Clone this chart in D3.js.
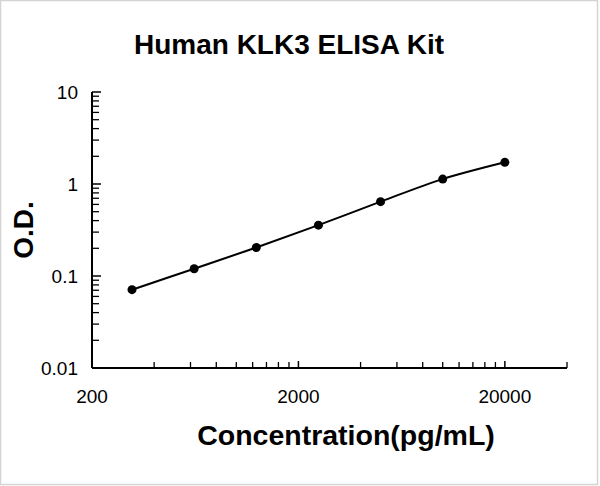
<!DOCTYPE html>
<html>
<head>
<meta charset="utf-8">
<script src="https://cdn.jsdelivr.net/npm/d3@7"></script>
<style>
  body { margin: 0; background: #fff; }
  text { fill: #000; }
</style>
</head>
<body>
<div class="viz-container"></div>
<script>
// data
let concentration = [312.5, 625, 1250, 2500, 5000, 10000, 20000];
let od = [0.071, 0.120, 0.204, 0.357, 0.643, 1.13, 1.72];
let xTickLabels = [200, 2000, 20000];
let yTickLabels = [0.01, 0.1, 1, 10];

let width = 600, height = 486;

let viz = d3.select(".viz-container")
  .append("svg")
    .attr("width", width)
    .attr("height", height);

// faint frame round the picture
viz.append("rect")
  .attr("x", 0.5).attr("y", 0.5)
  .attr("width", 597).attr("height", 484)
  .attr("fill", "none")
  .attr("stroke", "#d4d4d4")
  .attr("stroke-width", 1.5);

let x = d3.scaleLog().domain([200, 40000]).range([92, 567]);
let y = d3.scaleLog().domain([0.01, 10]).range([368, 92]);

// minor ticks, Excel style: multiples of the decade start
function minorTicks(scale) {
  let [lo, hi] = scale.domain();
  let out = [];
  for (let d = lo; d < hi; d *= 10) {
    for (let k = 2; k <= 9; k++) {
      let v = d * k;
      if (v <= hi * 1.0001) out.push(v);
    }
  }
  return out;
}

// x axis
let xAxis = viz.append("g").attr("transform", "translate(0," + y(0.01) + ")");
xAxis.append("line")
  .attr("x1", x(200)).attr("x2", x(40000))
  .attr("stroke", "#000").attr("stroke-width", 2);
xAxis.selectAll(".minor").data(minorTicks(x)).enter()
  .append("line")
    .attr("x1", d => x(d)).attr("x2", d => x(d))
    .attr("y1", 0).attr("y2", -6)
    .attr("stroke", "#000").attr("stroke-width", 1.3);
xAxis.selectAll(".major").data(xTickLabels).enter()
  .append("line")
    .attr("x1", d => x(d)).attr("x2", d => x(d))
    .attr("y1", 0).attr("y2", -7)
    .attr("stroke", "#000").attr("stroke-width", 1.5);
xAxis.selectAll(".lbl").data(xTickLabels).enter()
  .append("text")
    .attr("x", d => x(d))
    .attr("y", 35)
    .attr("text-anchor", "middle")
    .style("font-family", "'Liberation Sans', Arial, sans-serif")
    .style("font-size", "19px")
    .text(d => d);

// y axis
let yAxis = viz.append("g").attr("transform", "translate(" + x(200) + ",0)");
yAxis.append("line")
  .attr("y1", y(0.01)).attr("y2", y(10))
  .attr("stroke", "#000").attr("stroke-width", 2);
yAxis.selectAll(".minor").data(minorTicks(y)).enter()
  .append("line")
    .attr("y1", d => y(d)).attr("y2", d => y(d))
    .attr("x1", 0).attr("x2", 7)
    .attr("stroke", "#000").attr("stroke-width", 1.3);
yAxis.selectAll(".major").data(yTickLabels).enter()
  .append("line")
    .attr("y1", d => y(d)).attr("y2", d => y(d))
    .attr("x1", 0).attr("x2", 9)
    .attr("stroke", "#000").attr("stroke-width", 1.5);
yAxis.selectAll(".lbl").data(yTickLabels).enter()
  .append("text")
    .attr("x", -14)
    .attr("y", d => y(d))
    .attr("dy", "0.36em")
    .attr("text-anchor", "end")
    .style("font-family", "'Liberation Sans', Arial, sans-serif")
    .style("font-size", "19px")
    .text(d => d);

// curve
let points = concentration.map((c, i) => [c, od[i]]);
let line = d3.line()
  .x(d => x(d[0]))
  .y(d => y(d[1]))
  .curve(d3.curveCatmullRom.alpha(0.5));

viz.append("path")
  .datum(points)
  .attr("d", line)
  .attr("fill", "none")
  .attr("stroke", "#000")
  .attr("stroke-width", 2);

viz.selectAll(".dot").data(points).enter()
  .append("circle")
    .attr("cx", d => x(d[0]))
    .attr("cy", d => y(d[1]))
    .attr("r", 4.5)
    .attr("fill", "#000");

// titles
viz.append("text")
  .attr("x", 289).attr("y", 54)
  .attr("text-anchor", "middle")
  .style("font-family", "'Liberation Sans', Arial, sans-serif")
  .style("font-weight", "bold")
  .style("font-size", "28px")
  .text("Human KLK3 ELISA Kit");

viz.append("text")
  .attr("x", 346).attr("y", 445)
  .attr("text-anchor", "middle")
  .style("font-family", "'Liberation Sans', Arial, sans-serif")
  .style("font-weight", "bold")
  .style("font-size", "28.5px")
  .text("Concentration(pg/mL)");

viz.append("text")
  .attr("transform", "translate(33,230) rotate(-90)")
  .attr("text-anchor", "middle")
  .style("font-family", "'Liberation Sans', Arial, sans-serif")
  .style("font-weight", "bold")
  .style("font-size", "28px")
  .text("O.D.");
</script>
</body>
</html>
